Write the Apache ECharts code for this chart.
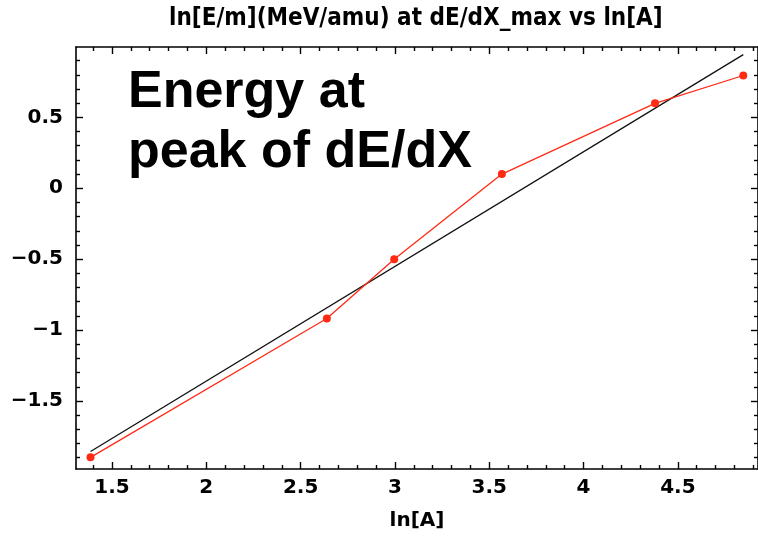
<!DOCTYPE html>
<html>
<head>
<meta charset="utf-8">
<script src="https://cdn.jsdelivr.net/npm/echarts@6/dist/echarts.min.js"></script>
<style>
  html, body { margin: 0; padding: 0; background: #fff; }
  #chart { width: 758px; height: 536px; }
</style>
</head>
<body>
<div id="chart"></div>
<script>
// ln(A) of the projectile nuclei and ln(E/m) at the Bragg peak
const lnA = [1.386, 2.639, 2.996, 3.567, 4.379, 4.847];
const lnE = [-1.898, -0.919, -0.501, 0.100, 0.599, 0.795];

// straight-line fit through the points (end points)
const fitX = [1.386, 4.847];
const fitY = [-1.857, 0.942];

// tick positions
const xMajorTicks = [1.5, 2, 2.5, 3, 3.5, 4, 4.5];
const xMinorTicks = [1.4, 1.6, 1.7, 1.8, 1.9, 2.1, 2.2, 2.3, 2.4, 2.6, 2.7, 2.8, 2.9,
  3.1, 3.2, 3.3, 3.4, 3.6, 3.7, 3.8, 3.9, 4.1, 4.2, 4.3, 4.4, 4.6, 4.7, 4.8, 4.9];
const yMajorTicks = [-1.5, -1, -0.5, 0, 0.5];
const yMinorTicks = [-1.9, -1.8, -1.7, -1.6, -1.4, -1.3, -1.2, -1.1, -0.9, -0.8, -0.7, -0.6,
  -0.4, -0.3, -0.2, -0.1, 0.1, 0.2, 0.3, 0.4, 0.6, 0.7, 0.8, 0.9];

const titleText = 'ln[E/m](MeV/amu) at dE/dX_max vs ln[A]';
const xName = 'ln[A]';
const noteLines = ['Energy at', 'peak of dE/dX'];

const X_MIN = 1.309, X_MAX = 4.925;
const Y_MIN = -1.98, Y_MAX = 0.996;

const tickFont = { fontFamily: 'DejaVu Sans', fontWeight: 'bold', fontSize: 20, color: '#000' };
const fmt = v => {
  const s = String(Math.round(v * 10) / 10);
  return s.replace('-', '\u2212');
};

function frameAxis(kind, pos, values, len, labels) {
  const ax = {
    type: 'value', position: pos,
    min: kind === 'x' ? X_MIN : Y_MIN,
    max: kind === 'x' ? X_MAX : Y_MAX,
    axisLine: { show: !!labels, onZero: false, lineStyle: { color: '#000', width: 1.6 } },
    axisTick: { show: true, inside: true, length: len, customValues: values,
      lineStyle: { color: '#000', width: 1.4 } },
    axisLabel: { show: !!labels },
    splitLine: { show: false }
  };
  if (labels) {
    ax.axisLabel = Object.assign({ show: true, customValues: values, formatter: fmt,
      margin: kind === 'x' ? 9 : 13 }, tickFont);
  }
  return ax;
}

const xAxes = [
  frameAxis('x', 'bottom', xMajorTicks, 7, true),
  frameAxis('x', 'bottom', xMinorTicks, 4, false),
  frameAxis('x', 'top', xMajorTicks, 7, false),
  frameAxis('x', 'top', xMinorTicks, 4, false)
];
xAxes[0].name = xName;
xAxes[0].nameLocation = 'middle';
xAxes[0].nameGap = 42;
xAxes[0].nameTextStyle = { fontFamily: 'DejaVu Sans', fontWeight: 'bold', fontSize: 20, color: '#000' };
xAxes[2].axisLine.show = true;

const yAxes = [
  frameAxis('y', 'left', yMajorTicks, 7, true),
  frameAxis('y', 'left', yMinorTicks, 4, false),
  frameAxis('y', 'right', yMajorTicks, 7, false),
  frameAxis('y', 'right', yMinorTicks, 4, false)
];
yAxes[2].axisLine.show = true;

const noteFont = 'bold 52px "Liberation Sans"';

const chart = echarts.init(document.getElementById('chart'), null, { renderer: 'canvas' });
chart.setOption({
  animation: false,
  backgroundColor: '#fff',
  grid: { left: 76, top: 47, right: -5, bottom: 64, containLabel: false },
  xAxis: xAxes,
  yAxis: yAxes,
  graphic: [
    { type: 'text', left: 419 - 250, top: 7,
      style: { text: titleText, x: 0, y: 0, width: 500, align: 'center',
        font: 'bold 24px "DejaVu Sans Condensed", "DejaVu Sans"', fill: '#000' } },
    { type: 'text', x: 128, y: 67,
      style: { text: noteLines[0], font: noteFont, fill: '#000' } },
    { type: 'text', x: 128, y: 127,
      style: { text: noteLines[1], font: noteFont, fill: '#000' } }
  ],
  series: [
    {
      type: 'line', name: 'fit', xAxisIndex: 0, yAxisIndex: 0,
      data: fitX.map((x, i) => [x, fitY[i]]),
      symbol: 'none', lineStyle: { color: '#111', width: 1.3 }, z: 2
    },
    {
      type: 'line', name: 'data', xAxisIndex: 0, yAxisIndex: 0,
      data: lnA.map((x, i) => [x, lnE[i]]),
      symbol: 'circle', symbolSize: 8,
      lineStyle: { color: '#ff2a14', width: 1.3 },
      itemStyle: { color: '#ff2a14' }, z: 3
    }
  ]
});
</script>
</body>
</html>
